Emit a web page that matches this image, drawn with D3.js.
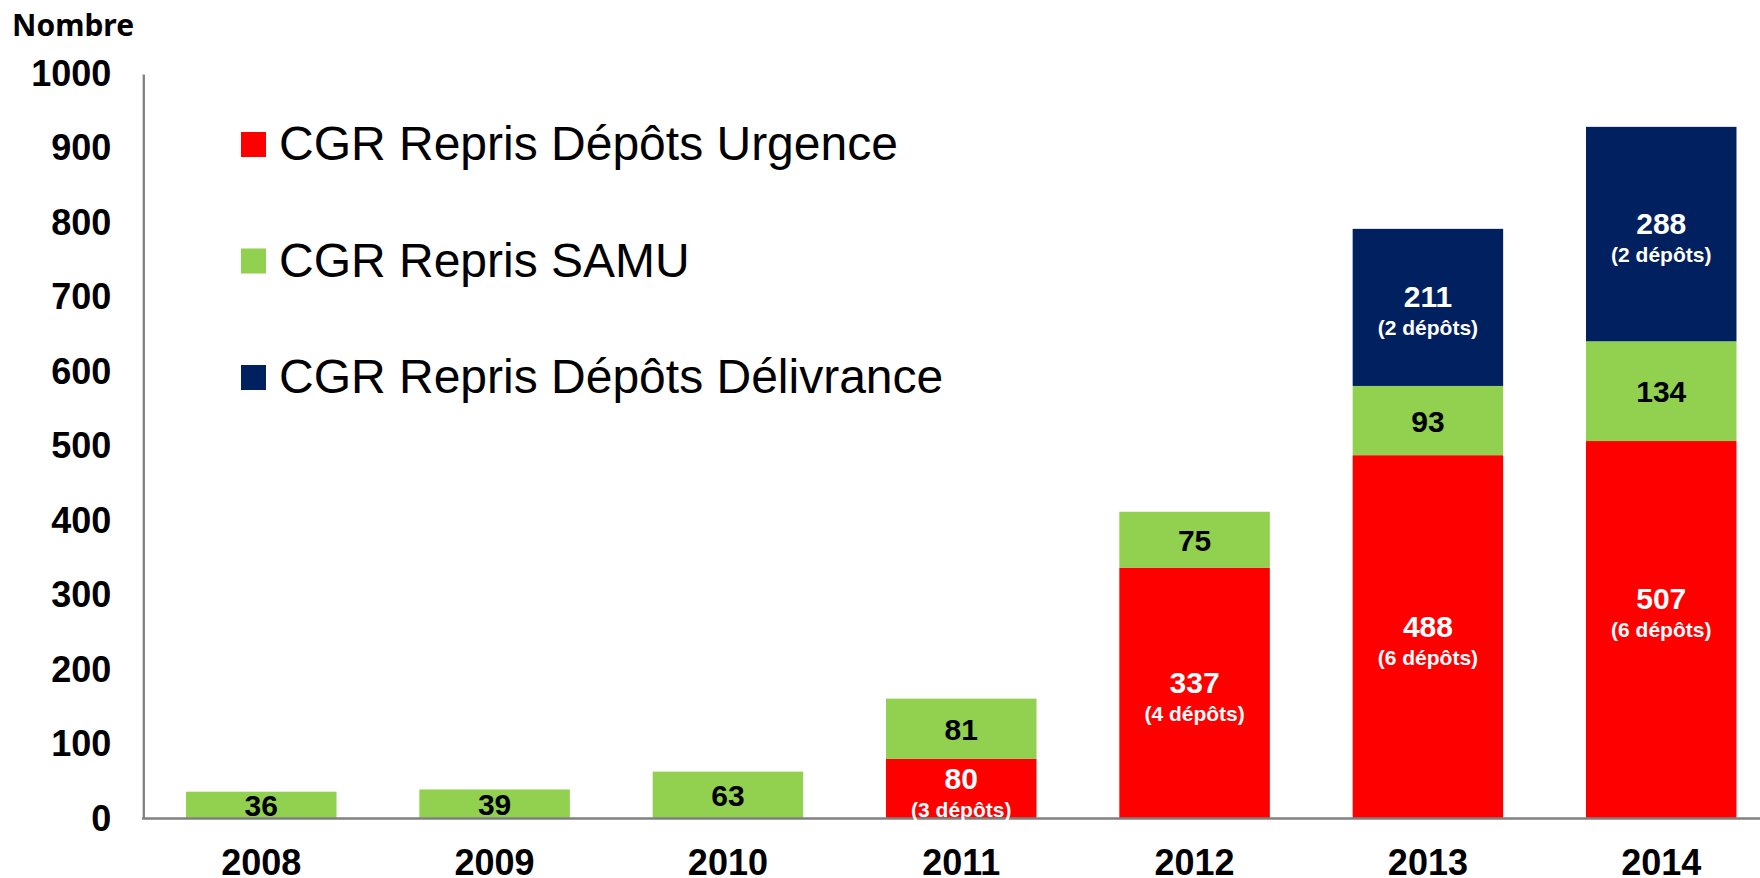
<!DOCTYPE html>
<html>
<head>
<meta charset="utf-8">
<script src="https://cdn.jsdelivr.net/npm/d3@7"></script>
<style>
  html, body { margin: 0; padding: 0; background: #fff; }
  svg { display: block; }
</style>
</head>
<body>
<svg id="chart" width="1760" height="878"></svg>
<script>
// ---- Data ----
const years = ["2008", "2009", "2010", "2011", "2012", "2013", "2014"];
const urgence = [0, 0, 0, 80, 337, 488, 507];
const samu = [36, 39, 63, 81, 75, 93, 134];
const delivrance = [0, 0, 0, 0, 0, 211, 288];
const depotsUrgence = [null, null, null, 3, 4, 6, 6];
const depotsDelivrance = [null, null, null, null, null, 2, 2];
const seriesNames = ["CGR Repris Dépôts Urgence", "CGR Repris SAMU", "CGR Repris Dépôts Délivrance"];
const seriesColors = ["#FF0000", "#92D050", "#002060"];
const yTicks = [0, 100, 200, 300, 400, 500, 600, 700, 800, 900, 1000];
const yTitle = "Nombre";

// ---- Layout ----
const W = 1760, H = 878;
const axisX = 143.3, y0 = 818.5, yTop = 74;
const numFont = "'Liberation Sans', Arial, sans-serif";
const svg = d3.select("#chart");

const x = d3.scaleBand().domain(years).range([144.6, 1777.9]).paddingInner(0.355).paddingOuter(0.1775);
const y = d3.scaleLinear().domain([0, 1000]).range([y0, yTop]);

// stacked data
const rows = years.map((yr, i) => ({ year: yr, u: urgence[i], s: samu[i], d: delivrance[i], du: depotsUrgence[i], dd: depotsDelivrance[i] }));
const stack = d3.stack().keys(["u", "s", "d"]);
const stacked = stack(rows);

// bars
stacked.forEach((layer, li) => {
  svg.append("g").selectAll("rect").data(layer).join("rect")
    .attr("x", d => x(d.data.year))
    .attr("width", x.bandwidth())
    .attr("y", d => y(d[1]))
    .attr("height", d => Math.max(0, y(d[0]) - y(d[1])))
    .attr("fill", seriesColors[li]);
});

// axes
const gy = svg.append("g").attr("transform", `translate(${axisX},0)`)
  .call(d3.axisLeft(y).tickValues(yTicks).tickSize(0).tickSizeOuter(0).tickPadding(32).tickFormat(d3.format("d")));
gy.select(".domain").attr("stroke", "#808080").attr("stroke-width", 2.3);
gy.selectAll("text").attr("font-family", numFont).attr("font-weight", "bold").attr("font-size", 36).attr("fill", "#000");

const gx = svg.append("g").attr("transform", `translate(0,${y0})`)
  .call(d3.axisBottom(x).tickSize(0).tickSizeOuter(0));
gx.select(".domain").attr("stroke", "#808080").attr("stroke-width", 2.3)
  .attr("d", `M${axisX - 1.15},0H${W}`);
gx.selectAll("text").attr("y", 56.5).attr("dy", 0)
  .attr("font-family", numFont).attr("font-weight", "bold").attr("font-size", 36).attr("fill", "#000");

// y title
svg.append("text").attr("x", 12).attr("y", 36).text(yTitle)
  .attr("font-family", "'Noto Sans', 'Open Sans', sans-serif").attr("font-weight", "bold").attr("font-size", 30).attr("fill", "#000");

// value labels
const labelGroup = svg.append("g").attr("font-family", numFont).attr("font-weight", "bold").attr("text-anchor", "middle");
stacked.forEach((layer, li) => {
  layer.forEach((d, i) => {
    const v = d[1] - d[0];
    if (v <= 0) return;
    const cx = x(d.data.year) + x.bandwidth() / 2;
    const mid = (y(d[0]) + y(d[1])) / 2;
    const color = li === 1 ? "#000" : "#fff";
    const dep = li === 0 ? d.data.du : (li === 2 ? d.data.dd : null);
    if (dep == null) {
      labelGroup.append("text").attr("x", cx).attr("y", mid + 11).attr("font-size", 30).attr("fill", color).text(v);
    } else {
      // the 2014 Urgence label sits higher in its segment
      const shift = (li === 0 && d.data.year === "2014") ? -21 : 0;
      labelGroup.append("text").attr("x", cx).attr("y", mid + shift).attr("font-size", 30).attr("fill", color).text(v);
      labelGroup.append("text").attr("x", cx).attr("y", mid + shift + 28).attr("font-size", 21).attr("fill", color)
        .text(`(${dep} dépôts)`);
    }
  });
});

// legend
const legend = svg.append("g");
seriesNames.forEach((name, i) => {
  const base = 160 + i * 116.5;
  legend.append("rect").attr("x", 241).attr("y", base - 28).attr("width", 25).attr("height", 25).attr("fill", seriesColors[i]);
  legend.append("text").attr("x", 279).attr("y", base).text(name)
    .attr("font-family", numFont).attr("font-size", 48).attr("fill", "#000");
});
</script>
</body>
</html>
